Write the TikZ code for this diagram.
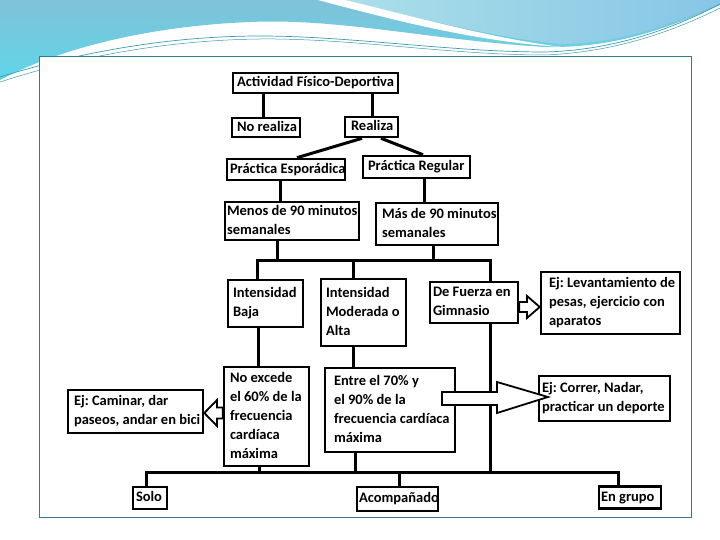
\documentclass[tikz,border=0pt]{standalone}
\usepackage{fontspec}
\newfontfamily\diafont{Carlito}
\newcommand\bxt[3][0pt]{\makebox[#2][l]{\hspace*{#1}\begin{tabular}{@{}l@{}}#3\end{tabular}}}
\definecolor{framec}{HTML}{2E7D8C}
\definecolor{swblue}{HTML}{80C2D8}
\definecolor{swcyan}{HTML}{5FD6EA}
\definecolor{swlight}{HTML}{ACDFE9}
\definecolor{swright}{HTML}{86C6E6}
\definecolor{swline}{HTML}{3A9DB0}
\begin{document}
\begin{tikzpicture}[x=1pt,y=-1pt,
  box/.style={draw=black, line width=2.6pt, fill=white, inner xsep=2pt, inner ysep=0pt,
    font=\diafont\bfseries\fontsize{14.5}{19}\selectfont\frenchspacing},
  link/.style={draw=black, line width=3pt},
  hollow/.style={draw=black, line width=1.8pt, fill=white, line join=miter}]
\useasboundingbox (0,0) rectangle (720,540);
\fill[white] (0,0) rectangle (720,540);
% top swoosh
\shade[top color=swblue, bottom color=swcyan]
  (0,0) -- (720,0) -- (720,5) .. controls (660,32) and (610,48) .. (545,47)
  .. controls (430,40) and (340,18) .. (250,22)
  .. controls (150,26) and (60,48) .. (0,80) -- cycle;
\shade[left color=swlight, right color=swright]
  (340,0) -- (720,0) -- (720,3) .. controls (660,30) and (610,44) .. (560,44)
  .. controls (480,36) and (400,12) .. (340,0) -- cycle;
\fill[white] (318,0) .. controls (400,22) and (480,42) .. (562,47)
  .. controls (490,38) and (420,18) .. (345,0) -- cycle;
\draw[swline, line width=0.7pt] (0,77) .. controls (80,52) and (170,36) .. (260,36)
  .. controls (350,36) and (450,52) .. (545,52) .. controls (620,50) and (680,25) .. (720,4);
\draw[swline, line width=0.5pt] (0,82) .. controls (80,56) and (170,40) .. (260,39)
  .. controls (350,38) and (450,55) .. (545,55) .. controls (620,52) and (680,28) .. (720,8);
% frame
\draw[framec, line width=1pt, fill=white] (39,57) rectangle (691,517);

% nodes
\node[box, minimum height=20pt] (A) at (315.5,83) {\bxt[2pt]{161pt}{Actividad Físico-Deportiva}};
\node[box, minimum height=19pt] (nr) at (266,127.5) {\bxt[3pt]{64pt}{No realiza}};
\node[box, minimum height=20pt] (re) at (371.5,127) {\bxt[4pt]{49pt}{Realiza}};
\node[box, minimum height=21pt] (pe) at (286,169.5) {\bxt[1pt]{114pt}{Práctica Esporádica}};
\node[box, minimum height=22pt] (pr) at (416.5,167) {\bxt[3pt]{103pt}{Práctica Regular}};
\node[box, minimum height=38pt] (me) at (292,221) {\bxt{130pt}{Menos de 90 minutos\\semanales}};
\node[box, minimum height=42pt] (ma) at (437,224) {\bxt[4pt]{118pt}{Más de 90 minutos\\semanales}};
\node[box, minimum height=47pt] (ib) at (265.5,303.5) {\bxt[3pt]{71pt}{Intensidad\\Baja}};
\node[box, minimum height=67pt] (im) at (363.5,312.5) {\bxt[3pt]{81pt}{Intensidad\\Moderada o\\Alta}};
\node[box, minimum height=41pt] (fg) at (474,302.5) {\bxt[1pt]{84pt}{De Fuerza en\\Gimnasio}};
\node[box, minimum height=62pt] (lv) at (610.5,303) {\bxt[6pt]{135pt}{Ej: Levantamiento de\\pesas, ejercicio con\\aparatos}};
\node[box, minimum height=99pt] (ne) at (266.5,416.5) {\bxt[4pt]{81pt}{No excede\\el 60\% de la\\frecuencia\\cardíaca\\máxima}};
\node[box, minimum height=43pt] (ca) at (135.5,411.5) {\bxt[4pt]{131pt}{Ej: Caminar, dar\\paseos, andar en bici}};
\node[box, minimum height=84pt] (en) at (390,410) {\bxt[7pt]{126pt}{Entre el 70\% y\\el 90\% de la\\frecuencia cardíaca\\máxima}};
\node[box, minimum height=45pt] (co) at (604.5,398.5) {\bxt[1pt]{127pt}{Ej: Correr, Nadar,\\practicar un deporte}};
\node[box, minimum height=22pt] (so) at (150,498) {\bxt[1pt]{30pt}{Solo}};
\node[box, minimum height=24pt] (ac) at (397.5,499) {\bxt{77pt}{Acompañado}};
\node[box, minimum height=22pt] (eg) at (630,497.5) {\bxt{58pt}{En grupo}};

% bus coordinates
\coordinate (bL) at (257,260);
\coordinate (bR) at (490,260);
\coordinate (bBL) at (146,472);
\coordinate (bBR) at (618,472);

% connectors
\draw[link] (A.south -| 263,0) -- (nr.north -| 263,0);
\draw[link] (A.south -| 372,0) -- (re.north -| 372,0);
\draw[link] (re.south -| 362,0) -- (pe.north -| 297,0);
\draw[link] (re.south -| 381,0) -- (pr.north -| 423,0);
\draw[link] (pe.south -| 280,0) -- (me.north -| 280,0);
\draw[link] (pr.south -| 424,0) -- (ma.north -| 424,0);
\draw[link] (me.south -| 277,0) -- (bL -| 277,0);
\draw[link] (ma.south -| 433,0) -- (bR -| 433,0);
\draw[link, line cap=rect] (bL) -- (bR);
\draw[link] (bL) -- (ib.north -| bL);
\draw[link] (bL -| 353,0) -- (im.north -| 353,0);
\draw[link] (bR) -- (fg.north -| bR);
\draw[link] (fg.south -| bR) -- (bR |- bBR);
\draw[link] (ib.south -| 258,0) -- (ne.north -| 258,0);
\draw[link] (im.south -| 353,0) -- (en.north -| 353,0);
\draw[link] (ne.south -| 259,0) -- (bBL -| 259,0);
\draw[link] (en.south -| 355,0) -- (bBL -| 355,0);
\draw[link, line cap=rect] (bBL) -- (bBR);
\draw[link] (bBL) -- (so.north -| bBL);
\draw[link] (bBL -| 399,0) -- (ac.north -| 399,0);
\draw[link] (bBR) -- (eg.north -| bBR);

% hollow arrows
\draw[hollow] (fg.east |- 0,302) -- (527,302) -- (527,296) -- (lv.west |- 0,307) -- (527,318) -- (527,312) -- (fg.east |- 0,312) -- cycle;
\draw[hollow] (ne.west |- 0,407.5) -- (217,407.5) -- (217,400) -- (ca.east |- 0,413) -- (217,426) -- (217,418.5) -- (ne.west |- 0,418.5) -- cycle;
\draw[hollow] (442,392) -- (497,392) -- (497,382) -- (548,397) -- (497,413) -- (497,405) -- (442,405) -- cycle;
\end{tikzpicture}
\end{document}
